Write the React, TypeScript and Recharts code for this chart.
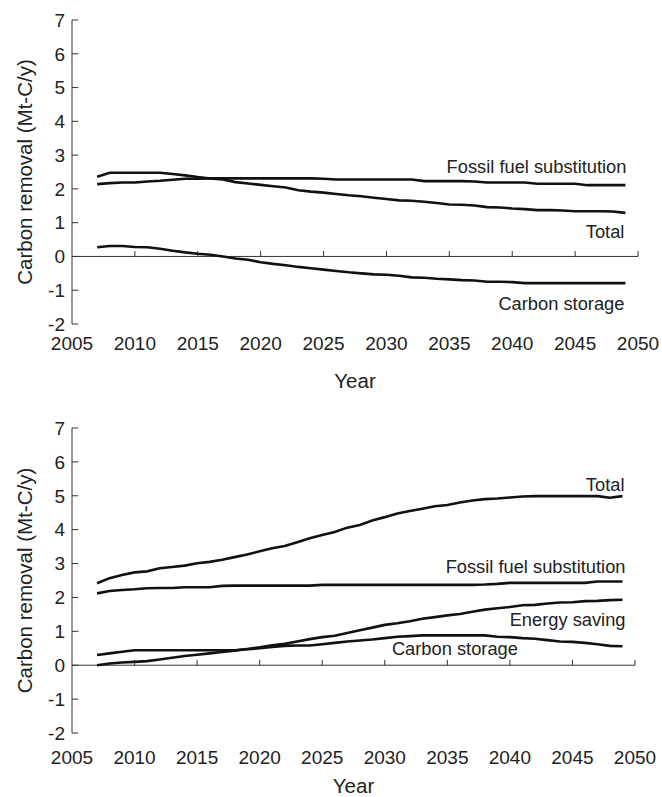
import React from 'react';
import { LineChart, Line, XAxis, YAxis, ReferenceLine, LabelList } from 'recharts';

const years = [
  2007, 2008, 2009, 2010, 2011, 2012, 2013, 2014, 2015, 2016, 2017, 2018, 2019, 2020, 2021,
  2022, 2023, 2024, 2025, 2026, 2027, 2028, 2029, 2030, 2031, 2032, 2033, 2034, 2035, 2036,
  2037, 2038, 2039, 2040, 2041, 2042, 2043, 2044, 2045, 2046, 2047, 2048, 2049,
];

const yearTicks = [2005, 2010, 2015, 2020, 2025, 2030, 2035, 2040, 2045, 2050];
const valueTicks = [-2, -1, 0, 1, 2, 3, 4, 5, 6, 7];

// upper panel
const topFossil = [
  2.14, 2.17, 2.19, 2.19, 2.22, 2.24, 2.27, 2.30, 2.30, 2.31, 2.31, 2.31, 2.31, 2.31, 2.31,
  2.31, 2.31, 2.31, 2.30, 2.28, 2.28, 2.28, 2.28, 2.28, 2.28, 2.28, 2.23, 2.23, 2.23, 2.23,
  2.22, 2.19, 2.19, 2.19, 2.19, 2.15, 2.15, 2.15, 2.15, 2.11, 2.11, 2.11, 2.11,
];
const topTotal = [
  2.36, 2.48, 2.48, 2.48, 2.48, 2.48, 2.44, 2.40, 2.35, 2.31, 2.28, 2.20, 2.16, 2.12, 2.08,
  2.04, 1.96, 1.92, 1.89, 1.85, 1.81, 1.78, 1.74, 1.70, 1.66, 1.65, 1.62, 1.58, 1.54, 1.53,
  1.51, 1.46, 1.45, 1.42, 1.40, 1.37, 1.37, 1.36, 1.34, 1.34, 1.34, 1.33, 1.29,
];
const topStorage = [
  0.27, 0.31, 0.31, 0.28, 0.27, 0.23, 0.17, 0.12, 0.08, 0.05, 0.0, -0.06, -0.1, -0.17, -0.22,
  -0.26, -0.31, -0.35, -0.39, -0.43, -0.47, -0.5, -0.53, -0.54, -0.57, -0.62, -0.63, -0.66, -0.68, -0.7,
  -0.71, -0.75, -0.75, -0.76, -0.79, -0.79, -0.79, -0.79, -0.79, -0.79, -0.79, -0.79, -0.79,
];

// lower panel
const lowTotal = [
  2.42, 2.57, 2.66, 2.74, 2.77, 2.86, 2.9, 2.94, 3.01, 3.05, 3.11, 3.19, 3.27, 3.36, 3.45,
  3.52, 3.63, 3.75, 3.84, 3.93, 4.06, 4.14, 4.27, 4.37, 4.48, 4.55, 4.62, 4.69, 4.73, 4.8,
  4.86, 4.9, 4.92, 4.95, 4.98, 4.99, 4.99, 4.99, 4.99, 4.99, 4.99, 4.94, 4.99,
];
const lowFossil = [
  2.12, 2.19, 2.22, 2.24, 2.27, 2.28, 2.28, 2.3, 2.3, 2.3, 2.34, 2.35, 2.35, 2.35, 2.35,
  2.35, 2.35, 2.35, 2.37, 2.37, 2.37, 2.37, 2.37, 2.37, 2.37, 2.37, 2.37, 2.37, 2.37, 2.37,
  2.37, 2.38, 2.4, 2.43, 2.43, 2.43, 2.43, 2.43, 2.43, 2.43, 2.47, 2.47, 2.47,
];
const lowEnergy = [
  0.0, 0.05, 0.08, 0.1, 0.12, 0.17, 0.22, 0.27, 0.31, 0.35, 0.39, 0.43, 0.48, 0.53, 0.59,
  0.63, 0.7, 0.77, 0.83, 0.87, 0.95, 1.03, 1.11, 1.19, 1.24, 1.3, 1.37, 1.42, 1.47, 1.51,
  1.58, 1.64, 1.68, 1.72, 1.77, 1.78, 1.82, 1.85, 1.86, 1.89, 1.9, 1.92, 1.93,
];
const lowStorage = [
  0.3, 0.35, 0.4, 0.44, 0.44, 0.44, 0.44, 0.44, 0.44, 0.44, 0.44, 0.44, 0.47, 0.5, 0.54,
  0.57, 0.58, 0.58, 0.62, 0.66, 0.7, 0.73, 0.76, 0.8, 0.84, 0.86, 0.88, 0.88, 0.88, 0.88,
  0.88, 0.88, 0.84, 0.83, 0.8, 0.78, 0.74, 0.7, 0.69, 0.66, 0.62, 0.57, 0.56,
];

const topData = years.map((year, i) => ({
  year,
  fossil: topFossil[i],
  total: topTotal[i],
  storage: topStorage[i],
}));

const lowData = years.map((year, i) => ({
  year,
  total: lowTotal[i],
  fossil: lowFossil[i],
  energy: lowEnergy[i],
  storage: lowStorage[i],
}));

const FONT = "'Liberation Sans', Arial, Helvetica, sans-serif";
const INK = '#222';
const AXIS = '#333';

interface SeriesCfg {
  key: string;
  name: string;
  at: number;
  dx: number;
  dy: number;
}

interface PanelProps {
  data: any[];
  series: SeriesCfg[];
  height: number;
  margin: { top: number; right: number; left: number; bottom: number };
  xAxisHeight: number;
  tickGap: number;
  yearOffset: number;
}

const lineLabel = (cfg: SeriesCfg) => (props: any) => {
  if (props.index !== cfg.at) return null;
  return (
    <text
      x={Number(props.x) + cfg.dx}
      y={Number(props.y) + cfg.dy}
      textAnchor="end"
      dominantBaseline="central"
      fontFamily={FONT}
      fontSize={18.3}
      fill={INK}
    >
      {cfg.name}
    </text>
  );
};

const Panel: React.FC<PanelProps> = ({ data, series, height, margin, xAxisHeight, tickGap, yearOffset }) => (
  <LineChart width={662} height={height} data={data} margin={margin}>
    <XAxis
      dataKey="year"
      type="number"
      domain={[2005, 2050]}
      ticks={yearTicks}
      interval={0}
      height={xAxisHeight}
      axisLine={false}
      tickLine={false}
      tickSize={0}
      tickMargin={tickGap}
      tick={{ fill: INK, fontSize: 19, fontFamily: FONT }}
      label={{ value: 'Year', position: 'insideBottom', offset: yearOffset, fill: INK, fontSize: 20.5, fontFamily: FONT }}
    />
    <YAxis
      type="number"
      domain={[-2, 7]}
      ticks={valueTicks}
      interval={0}
      width={72}
      axisLine={{ stroke: AXIS, strokeWidth: 1 }}
      tickLine={false}
      tickSize={0}
      tickMargin={7}
      tick={{ fill: INK, fontSize: 19, fontFamily: FONT }}
      label={{
        value: 'Carbon removal (Mt-C/y)',
        angle: -90,
        position: 'insideLeft',
        offset: 25,
        fill: INK,
        fontSize: 20.5,
        fontFamily: FONT,
        style: { textAnchor: 'middle' },
      }}
    />
    <ReferenceLine y={0} stroke={AXIS} strokeWidth={1} />
    {yearTicks.slice(1).map((t) => (
      <ReferenceLine key={'xt' + t} segment={[{ x: t, y: 0 }, { x: t, y: 0.16 }]} stroke={AXIS} strokeWidth={1} />
    ))}
    {valueTicks.map((v) => (
      <ReferenceLine key={'yt' + v} segment={[{ x: 2005, y: v }, { x: 2005.5, y: v }]} stroke={AXIS} strokeWidth={1} />
    ))}
    {series.map((s) => (
      <Line
        key={s.key}
        type="linear"
        dataKey={s.key}
        stroke="#111"
        strokeWidth={2.6}
        dot={false}
        activeDot={false}
        isAnimationActive={false}
      >
        <LabelList dataKey={s.key} content={lineLabel(s)} />
      </Line>
    ))}
  </LineChart>
);

const topSeries: SeriesCfg[] = [
  { key: 'fossil', name: 'Fossil fuel substitution', at: 42, dx: 1, dy: -19 },
  { key: 'total', name: 'Total', at: 42, dx: -1, dy: 19 },
  { key: 'storage', name: 'Carbon storage', at: 42, dx: -1, dy: 20 },
];

const lowSeries: SeriesCfg[] = [
  { key: 'total', name: 'Total', at: 42, dx: 2, dy: -12 },
  { key: 'fossil', name: 'Fossil fuel substitution', at: 42, dx: 3, dy: -15 },
  { key: 'energy', name: 'Energy saving', at: 42, dx: 3, dy: 19.5 },
  { key: 'storage', name: 'Carbon storage', at: 34, dx: -4.5, dy: 10 },
];

export default function App() {
  return (
    <div style={{ position: 'absolute', left: 0, top: 0, width: 662, background: '#fff' }}>
      <Panel
        data={topData}
        series={topSeries}
        height={400}
        margin={{ top: 20, right: 24, left: 0, bottom: 0 }}
        xAxisHeight={76}
        tickGap={13}
        yearOffset={12}
      />
      <Panel
        data={lowData}
        series={lowSeries}
        height={397}
        margin={{ top: 28, right: 27, left: 0, bottom: 0 }}
        xAxisHeight={64}
        tickGap={18}
        yearOffset={4}
      />
    </div>
  );
}
